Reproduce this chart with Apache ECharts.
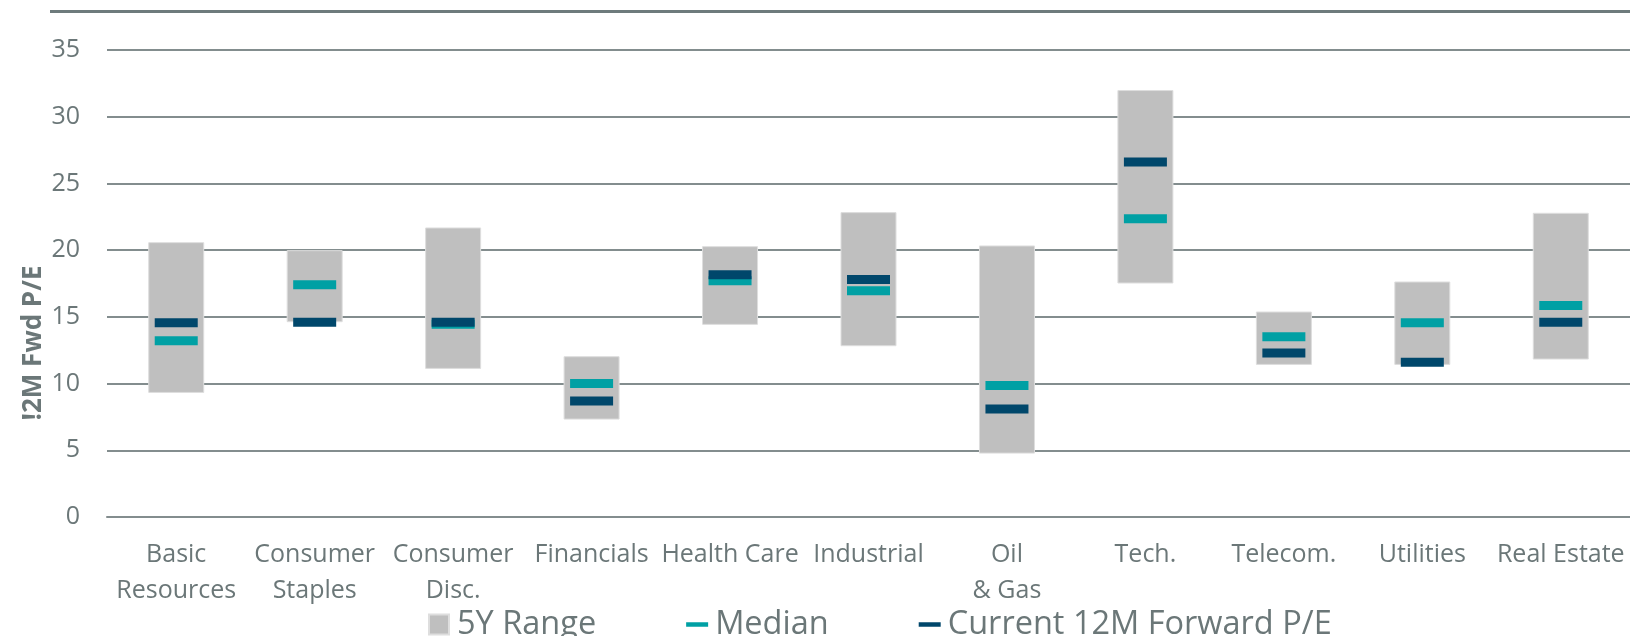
<!DOCTYPE html>
<html>
<head>
<meta charset="utf-8">
<script src="https://cdn.jsdelivr.net/npm/echarts@6/dist/echarts.min.js"></script>
<style>
  html, body { margin: 0; padding: 0; background: #fff; }
  #chart { width: 1630px; height: 636px; }
</style>
</head>
<body>
<div id="chart"></div>
<script>
// 行业分类
var categories = ['Basic\nResources', 'Consumer\nStaples', 'Consumer\nDisc.', 'Financials', 'Health Care',
    'Industrial', 'Oil\n& Gas', 'Tech.', 'Telecom.', 'Utilities', 'Real Estate'];
// 5年区间 下限 / 上限
var rangeLow = [9.3, 14.6, 11.1, 7.3, 14.4, 12.8, 4.75, 17.5, 11.4, 11.4, 11.8];
var rangeHigh = [20.6, 20.0, 21.7, 12.05, 20.3, 22.85, 20.35, 32.0, 15.4, 17.65, 22.8];
// 中位数
var median = [13.2, 17.4, 14.45, 10.0, 17.7, 16.95, 9.85, 22.35, 13.5, 14.55, 15.85];
// 当前12个月远期市盈率
var current = [14.55, 14.6, 14.6, 8.7, 18.15, 17.8, 8.1, 26.6, 12.3, 11.6, 14.6];
var yTicks = [0, 35, 5];

var textColor = '#6b7778';
var gridColor = '#838d8e';
var font = 'Open Sans';

var rangeSize = [];
for (var i = 0; i < rangeLow.length; i++) {
    rangeSize.push(+(rangeHigh[i] - rangeLow[i]).toFixed(2));
}

var myChart = echarts.init(document.getElementById('chart'));

var option = {
    animation: false,
    grid: {
        left: 107,
        top: 50,
        width: 1527,
        height: 467
    },
    legend: {
        left: 423,
        top: 603,
        itemGap: 90,
        itemWidth: 22,
        itemHeight: 20,
        textStyle: { color: textColor, fontSize: 32.5, fontFamily: font, padding: [0, 0, 0, 2] },
        data: [
            { name: '5Y Range', icon: 'path://M0,0H20V20H0Z' },
            { name: 'Median', icon: 'path://M0,0H22V4.5H0Z' },
            { name: 'Current 12M Forward P/E', icon: 'path://M0,0H22V4.5H0Z' }
        ]
    },
    xAxis: {
        type: 'category',
        data: categories,
        axisLine: { show: true, lineStyle: { color: gridColor, width: 2 } },
        axisTick: { show: false },
        axisLabel: {
            color: textColor,
            fontSize: 25,
            fontFamily: font,
            lineHeight: 36,
            margin: 20,
            interval: 0
        }
    },
    yAxis: {
        type: 'value',
        min: yTicks[0],
        max: yTicks[1],
        interval: yTicks[2],
        axisLine: { show: false },
        axisTick: { show: false },
        axisLabel: { color: textColor, fontSize: 25, fontFamily: font, margin: 27 },
        splitLine: { lineStyle: { color: gridColor, width: 2 } }
    },
    graphic: [
        {
            type: 'line',
            shape: { x1: 50, y1: 11.5, x2: 1630, y2: 11.5 },
            style: { stroke: '#6e7b7c', lineWidth: 3 }
        },
        {
            type: 'text',
            x: 34,
            y: 343,
            rotation: Math.PI / 2,
            style: {
                text: '!2M Fwd P/E',
                fill: textColor,
                font: 'bold 26px "Open Sans"',
                align: 'center',
                verticalAlign: 'middle'
            }
        }
    ],
    series: [
        {
            name: 'base',
            type: 'bar',
            stack: 'range',
            barWidth: 56,
            silent: true,
            itemStyle: { color: 'transparent' },
            data: rangeLow
        },
        {
            name: '5Y Range',
            type: 'bar',
            stack: 'range',
            barWidth: 56,
            itemStyle: { color: '#bfbfbf', borderColor: '#dedede', borderWidth: 1 },
            data: rangeSize
        },
        {
            name: 'Median',
            type: 'scatter',
            symbol: 'rect',
            symbolSize: [43, 9],
            itemStyle: { color: '#00a0a4', opacity: 1 },
            data: median
        },
        {
            name: 'Current 12M Forward P/E',
            type: 'scatter',
            symbol: 'rect',
            symbolSize: [43, 9],
            itemStyle: { color: '#00476b', opacity: 1 },
            data: current
        }
    ]
};
myChart.setOption(option);
</script>
</body>
</html>
